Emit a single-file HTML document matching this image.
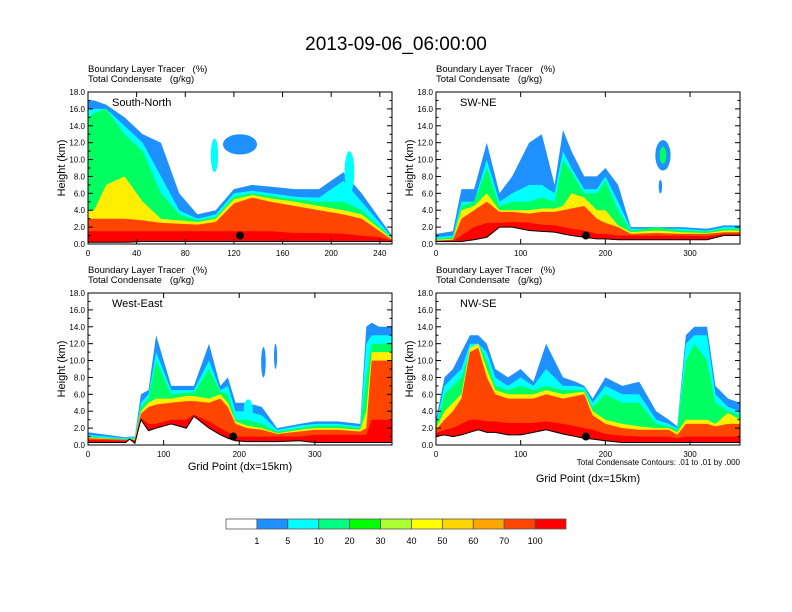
<!DOCTYPE html>
<html><head><meta charset="utf-8"><style>
body{margin:0;background:#fff;}
svg{display:block;font-family:"Liberation Sans",sans-serif;}
text{white-space:pre;}
</style></head><body>
<svg id="fig" width="792" height="612" viewBox="0 0 792 612" xmlns="http://www.w3.org/2000/svg">
<text x="396" y="50" font-size="19" text-anchor="middle">2013-09-06_06:00:00</text>
</svg>
<script>
// ---- data ----
const levelColors = ["#1e90ff","#00ffff","#00ff60","#ffee00","#ff4500","#ff0000"];
const cbColors = ["#ffffff","#1e90ff","#00ffff","#00ff80","#00ff00","#adff2f","#ffff00","#ffd700","#ffa500","#ff4500","#ff0000"];
const cbLabels = ["1","5","10","20","30","40","50","60","70","100"];
const yTicks = [0,2,4,6,8,10,12,14,16,18];

const p1x = [0,5,15,30,45,60,75,90,105,120,135,150,170,190,210,225,240,250];
const p1terr = [0.2,0.2,0.2,0.2,0.3,0.3,0.3,0.3,0.3,0.3,0.3,0.3,0.3,0.3,0.3,0.3,0.3,0.3];
const p1lv = [
 [17,17,16.5,15,13,12,6,3.5,4,6.5,7,6.8,6.5,6.5,8.5,6,3,1],
 [16,16,16,14,12,8,4,3,3.5,6,6.3,6,5.6,5.5,7.5,5,2.5,0.8],
 [15,15.5,16,13,11,6,3.5,2.8,3.2,5.6,6,5.7,5.3,5,5,4,2,0.7],
 [4,4,7,8,5,3,2.8,2.6,3,5.3,5.8,5.4,5,4.5,4,3.5,1.8,0.6],
 [3,3,3,3,2.8,2.5,2.4,2.3,2.6,4.8,5.5,5,4.5,4,3.5,3,1.5,0.5],
 [1.5,1.5,1.5,1.5,1.5,1.5,1.5,1.5,1.5,1.5,1.5,1.5,1.3,1.3,1.2,1,0.8,0.4]];
const p1blobs = [[125,11.8,14,1.2,0],[104,10.5,3,2,1],[215,8.5,4,2.5,1]];

const p2x = [0,20,30,45,60,75,90,110,125,140,150,160,175,190,200,215,230,260,290,320,340,359];
const p2terr = [0.3,0.3,0.3,0.5,0.8,2.0,2.0,1.6,1.5,1.4,1.2,1.0,0.8,0.6,0.6,0.5,0.5,0.5,0.5,0.5,1.0,1.0];
const p2lv = [
 [1.2,1.5,6.5,6.5,12,6,8,12,13,7,13.5,11,8,8,9,7,2,2,2,1.8,2.2,2.2],
 [0.8,1.0,5,5,10,5,6,7,7,6,11,9,6.5,6.5,8,5,1.8,1.8,1.8,1.6,2,2],
 [0.6,0.8,4.5,5,9,4.5,5,5,5.5,5,10,8.5,6,6,7.5,4,1.6,2,1.6,1.5,1.8,1.8],
 [0.5,0.6,4,4.5,6,4,4,4,4.2,4.2,4.5,6,5.5,4,4,2.2,1.4,1.6,1.4,1.3,1.6,1.6],
 [0.4,0.5,3,4,5,3.8,3.8,3.6,3.8,3.8,4,4.2,4.5,3,2.5,2,1.2,1.3,1.2,1.2,1.4,1.4],
 [0.35,0.4,1,2,2.5,2.5,2.6,2.5,2.3,2.2,2,1.8,1.6,1.2,1.2,1.0,1.0,1.0,1.0,0.9,1.2,1.2]];
const p2blobs = [[268,10.5,9,1.8,0],[268,10.5,4,1,2],[265,6.8,2,0.8,0]];

const p3x = [0,50,55,62,70,80,90,110,130,140,160,175,185,195,210,230,250,280,300,330,360,368,375,385,402];
const p3terr = [0.3,0.3,0.7,0.2,3,1.7,2,2.5,2,3.4,2,1.2,0.8,0.5,0.4,0.4,0.4,0.5,0.3,0.3,0.3,0.3,0.3,0.3,0.3];
const p3lv = [
 [1.5,0.9,1,1,6,6.5,13,7,7,7,12,7,8,5,5,4.5,2,2.5,2.8,2.8,2.5,14,14.5,14,14],
 [1.2,0.8,0.9,0.9,5,6,11,6.5,6.5,6.5,10,6.5,7,4,4,3.5,1.8,2.3,2.5,2.5,2.2,12,13,13,13],
 [1,0.7,0.8,0.8,4.5,5.5,10,6,6.2,6.2,9,6.3,6,3,3,2.5,1.6,2,2.3,2.3,2,8,12,12,12],
 [0.9,0.6,0.7,0.7,4,5,5.5,5.5,5.8,5.8,5.5,6,5,2.8,2.3,2,1.4,1.8,2,2,1.8,4,11,11,11],
 [0.8,0.6,0.6,0.6,3.7,4.5,4.8,5,5.2,5.2,5,5.5,4.5,2.5,2,1.8,1.3,1.6,1.8,1.8,1.6,2,10,10,10],
 [0.6,0.5,0.5,0.5,3.2,2.5,2.5,3,3,3.6,2.8,2,1.5,1,1,1,1,1,1.2,1.2,1.2,1.2,3,3,3]];
const p3blobs = [[232,9.8,3,1.8,0],[248,10.5,2,1.5,0],[212,4.2,6,1.2,1]];

const p4x = [0,10,20,30,40,50,60,70,85,100,115,130,150,165,175,185,200,220,240,260,275,285,295,305,320,330,345,359];
const p4terr = [1.0,1.2,1.0,1.2,1.5,1.8,1.5,1.5,1.2,1.2,1.5,1.8,1.3,1.0,0.8,0.7,0.5,0.3,0.3,0.3,0.3,0.3,0.3,0.3,0.3,0.3,0.3,0.3];
const p4lv = [
 [3,8,9,11,13,13,12,9,8,9,7.5,12,8,7.5,7,5.5,8,7,7.5,4,3,2.2,13,14,14,7,5.5,5],
 [2.5,7,8,9,12,12,11,8,7,8,7,9,7,7,6.8,5,7,6,6,3,2.5,2,12,13,13,6,4.5,4],
 [2.2,6,7,8,11,12,10,7,6.5,7,6.5,7,6.5,6.5,6.5,4.5,6,5,5,2.5,2.2,1.8,10,12,10,5,4,3.5],
 [2,4,5,6,11.5,12,9,6.5,6,6,6,6.5,6,6.2,6.3,4,3,2.5,2.2,2,2,1.5,3,3,3,2.5,3.8,3],
 [1.8,3,4,5.5,11,11.5,8,6,5.5,5.5,5.5,6,5.5,5.8,6,3.5,2.5,2,1.8,1.8,1.8,1.2,2.5,2.5,2.5,2.2,2.5,2.5],
 [1.4,1.8,2,2.5,3,3,2.8,2.8,2.6,2.6,2.6,2.8,2.5,2.2,2,1.8,1.3,1.1,1,1,1,0.8,1,1,1,1,1,1]];
const p4blobs = [];

const panels = [
 {name:"south-north", label:"South-North", x0:88, y0:92, xmax:250, xt:[0,40,80,120,160,200,240], xs:p1x, terr:p1terr, lv:p1lv, blobs:p1blobs, dot:[125,1.0]},
 {name:"sw-ne", label:"SW-NE", x0:436, y0:92, xmax:359, xt:[0,100,200,300], xs:p2x, terr:p2terr, lv:p2lv, blobs:p2blobs, dot:[177,1.0]},
 {name:"west-east", label:"West-East", x0:88, y0:293, xmax:402, xt:[0,100,200,300], xs:p3x, terr:p3terr, lv:p3lv, blobs:p3blobs, dot:[192,1.0]},
 {name:"nw-se", label:"NW-SE", x0:436, y0:293, xmax:359, xt:[0,100,200,300], xs:p4x, terr:p4terr, lv:p4lv, blobs:p4blobs, dot:[177,1.0]}
];

const NS="http://www.w3.org/2000/svg";
const svg=document.getElementById('fig');
function mk(tag,attrs,parent){const e=document.createElementNS(NS,tag);for(const k in attrs)e.setAttribute(k,attrs[k]);(parent||svg).appendChild(e);return e;}
const W=304,H=152;

panels.forEach((p,pi)=>{
  const g=mk('g',{});
  
  
  const sx=v=>p.x0+v/p.xmax*W, sy=v=>p.y0+H-v/18*H;
  const cp=mk('clipPath',{id:'c'+pi},g); mk('rect',{x:p.x0,y:p.y0,width:W,height:H},cp);
  const fg=mk('g',{'clip-path':'url(#c'+pi+')'},g);
  p.lv.forEach((top,li)=>{
    let d='M'+p.xs.map((x,i)=>sx(x).toFixed(1)+','+sy(Math.max(top[i],p.terr[i])).toFixed(1)).join(' L');
    for(let i=p.xs.length-1;i>=0;i--) d+=' L'+sx(p.xs[i]).toFixed(1)+','+sy(p.terr[i]).toFixed(1);
    const e=mk('path',{d:d+'Z',fill:levelColors[li]},fg);
    
    
  });
  p.blobs.forEach(b=>{
    const e=mk('ellipse',{cx:sx(b[0]),cy:sy(b[1]),rx:b[2]/p.xmax*W,ry:b[3]/18*H,fill:levelColors[b[4]]},fg);
    
    
  });
  const tl=mk('polyline',{points:p.xs.map((x,i)=>sx(x)+','+sy(p.terr[i])).join(' '),fill:'none',stroke:'#000','stroke-width':1},fg);
  
  
  const dt=mk('circle',{cx:sx(p.dot[0]),cy:sy(p.dot[1]),r:4,fill:'#000'},fg);
  
  
  mk('rect',{x:p.x0,y:p.y0,width:W,height:H,fill:'none',stroke:'#000','stroke-width':1},g);
  yTicks.forEach(t=>{
    const y=sy(t);
    mk('line',{x1:p.x0,y1:y,x2:p.x0+5,y2:y,stroke:'#000'},g);
    mk('line',{x1:p.x0+W,y1:y,x2:p.x0+W-5,y2:y,stroke:'#000'},g);
    const tx=mk('text',{x:p.x0-3,y:y+3,'font-size':8,'text-anchor':'end'},g); tx.textContent=t.toFixed(1);
    
    
    if(t<18){const ym=sy(t+1);
      mk('line',{x1:p.x0,y1:ym,x2:p.x0+2.5,y2:ym,stroke:'#000'},g);
      mk('line',{x1:p.x0+W,y1:ym,x2:p.x0+W-2.5,y2:ym,stroke:'#000'},g);}
  });
  p.xt.forEach(t=>{
    const x=sx(t);
    mk('line',{x1:x,y1:p.y0+H,x2:x,y2:p.y0+H-5,stroke:'#000'},g);
    mk('line',{x1:x,y1:p.y0,x2:x,y2:p.y0+5,stroke:'#000'},g);
    const tx=mk('text',{x:x,y:p.y0+H+12,'font-size':8,'text-anchor':'middle'},g); tx.textContent=t;
    
    
  });
  const yt=mk('text',{x:0,y:0,'font-size':11,'text-anchor':'middle',transform:'translate('+(p.x0-23)+','+(p.y0+H/2)+') rotate(-90)'},g);
  yt.textContent='Height (km)';
  
  
  const h1=mk('text',{x:p.x0,y:p.y0-20,'font-size':9.5},g); h1.textContent='Boundary Layer Tracer   (%)';
  
  
  const h2=mk('text',{x:p.x0,y:p.y0-10,'font-size':9.5},g); h2.textContent='Total Condensate   (g/kg)';
  
  
  const lb=mk('text',{x:p.x0+24,y:p.y0+14,'font-size':11},g); lb.textContent=p.label;
  
  
});

let e=mk('text',{x:240,y:470,'font-size':11,'text-anchor':'middle'}); e.textContent='Grid Point (dx=15km)';


e=mk('text',{x:588,y:482,'font-size':11,'text-anchor':'middle'}); e.textContent='Grid Point (dx=15km)';


e=mk('text',{x:740,y:465,'font-size':8,'text-anchor':'end'}); e.textContent='Total Condensate Contours: .01 to .01 by .000';



const cb=mk('g',{});


const cbx0=226, cbw=340/cbColors.length;
cbColors.forEach((c,i)=>{
  const r=mk('rect',{x:cbx0+i*cbw,y:519,width:cbw,height:10,fill:c,stroke:'#555','stroke-width':0.8},cb);
  
  
});
cbLabels.forEach((l,i)=>{
  const t=mk('text',{x:cbx0+(i+1)*cbw,y:544,'font-size':9,'text-anchor':'middle'},cb); t.textContent=l;
  
  
});
</script>
</body></html>
